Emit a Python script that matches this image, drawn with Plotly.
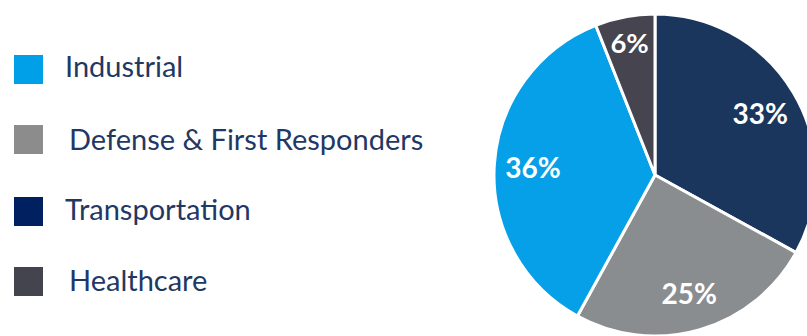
import plotly.graph_objects as go

# Data
categories = ["Industrial", "Defense & First Responders", "Transportation", "Healthcare"]
shares = [36, 25, 33, 6]
pie_colors = ["#05A0E7", "#8A8D90", "#1B365D", "#45444F"]
legend_colors = ["#00A0E9", "#8C8C8C", "#002060", "#44444F"]
# clockwise order of slices starting at 12 o'clock
pie_order = ["Transportation", "Defense & First Responders", "Industrial", "Healthcare"]

W, H = 816, 336

idx = [categories.index(c) for c in pie_order]
labels = [categories[i] for i in idx]
values = [shares[i] for i in idx]
dom = dict(x=[494 / W, 1], y=[0, (H - 14) / H])

fig = go.Figure()
fig.add_trace(go.Pie(
    labels=labels, values=values,
    marker=dict(colors=[pie_colors[i] for i in idx], line=dict(color="white", width=3)),
    sort=False, direction="clockwise", rotation=0,
    textinfo="none", domain=dom, showlegend=False,
    hoverinfo="label+percent",
))
# transparent ring carrying the percentage labels (places them in the outer part of the slices)
fig.add_trace(go.Pie(
    labels=labels, values=values, hole=0.52,
    marker=dict(colors=["rgba(0,0,0,0)"] * len(values), line=dict(width=0)),
    sort=False, direction="clockwise", rotation=0,
    textinfo="percent", textposition="inside", insidetextorientation="horizontal",
    textfont=dict(family="Lato", size=28, color="white", weight="bold"),
    domain=dom, showlegend=False, hoverinfo="skip",
))

# manual legend
sq_top = [55, 125, 197, 267]
text_x = [63, 67, 63, 67]
text_mid = [66, 138, 208, 279]
shapes = []
annotations = []
for i, c in enumerate(categories):
    y0 = sq_top[i]
    shapes.append(dict(type="rect", xref="paper", yref="paper",
                       x0=14 / W, x1=43 / W, y0=1 - (y0 + 29) / H, y1=1 - y0 / H,
                       fillcolor=legend_colors[i], line=dict(width=0)))
    annotations.append(dict(xref="paper", yref="paper", x=text_x[i] / W, y=1 - text_mid[i] / H,
                            xanchor="left", yanchor="middle", showarrow=False, text=c,
                            font=dict(family="Lato", size=29, color="#1F3864")))

fig.update_layout(
    width=W, height=H,
    margin=dict(l=0, r=0, t=0, b=0),
    paper_bgcolor="white", plot_bgcolor="white",
    shapes=shapes, annotations=annotations,
)

fig.write_html("out.html", post_script="document.body.style.margin='0';document.body.style.overflow='hidden';document.documentElement.style.overflow='hidden';")
